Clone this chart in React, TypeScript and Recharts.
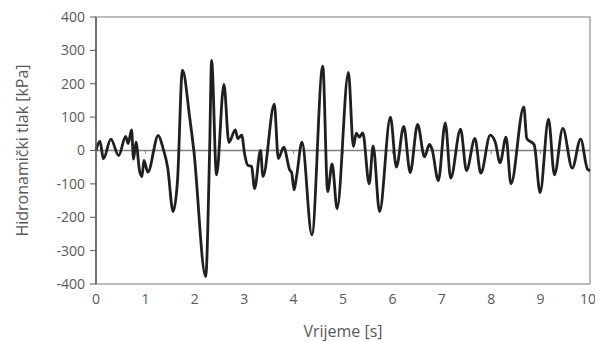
import { LineChart, Line, XAxis, YAxis, ReferenceLine, ReferenceArea } from 'recharts';

// time [s] and pressure [kPa] at peaks and troughs
const TIME = [
  0, 0.08, 0.15, 0.3, 0.46, 0.6, 0.65, 0.72, 0.76, 0.81, 0.88, 0.93, 0.97, 1.05, 1.26, 1.36, 1.45, 1.56, 1.65, 1.75,
  1.9, 1.98, 2.22, 2.3, 2.34, 2.44, 2.59, 2.69, 2.82, 2.87, 2.95, 3.01, 3.07, 3.15, 3.21, 3.33, 3.38, 3.61, 3.69, 3.8,
  3.92, 3.96, 4.01, 4.06, 4.17, 4.37, 4.59, 4.69, 4.78, 4.88, 5.11, 5.21, 5.27, 5.33, 5.4, 5.53, 5.61, 5.74, 5.96, 6.08,
  6.23, 6.36, 6.51, 6.65, 6.75, 6.8, 6.93, 7.07, 7.18, 7.38, 7.5, 7.67, 7.79, 7.98, 8.08, 8.18, 8.3, 8.4, 8.66, 8.72,
  8.87, 8.99, 9.16, 9.28, 9.45, 9.64, 9.81, 9.95, 10,
];
const PRESSURE = [
  0, 28, -25, 34, -15, 42, 21, 62, -26, 25, -60, -78, -30, -65, 45, 5, -50, -183, -90, 241,
  95, 0, -378, 0, 270, -73, 198, 24, 62, 36, 46, -12, -44, -48, -114, 0, -78, 139, -24, 10,
  -58, -66, -118, -78, 25, -253, 253, -123, -40, -174, 234, 12, 52, 40, 53, -100, 14, -183, 100, -50,
  72, -66, 78, -19, 18, 5, -90, 83, -83, 64, -60, 36, -68, 46, 26, -37, 40, -100, 131, 36,
  17, -126, 94, -73, 66, -53, 34, -56, -60,
];
const X_TICKS = [0, 1, 2, 3, 4, 5, 6, 7, 8, 9, 10];
const Y_TICKS = [-400, -300, -200, -100, 0, 100, 200, 300, 400];

const data = TIME.map((t, i) => ({ t, p: PRESSURE[i] }));

const font = '"Open Sans", sans-serif';
const tickStyle = { fill: '#595959', fontSize: 14, fontFamily: font };

export default function App() {
  return (
    <div style={{ position: 'absolute', left: 0, top: 0, background: '#fff' }}>
      <LineChart width={595} height={342} data={data} margin={{ top: 17, right: 5, bottom: 0, left: 16 }}>
        <ReferenceArea x1={0} x2={10} y1={-400} y2={400} fill="none" stroke="#a6a6a6" strokeWidth={1.5} />
        <XAxis
          dataKey="t"
          type="number"
          domain={[0, 10]}
          ticks={X_TICKS}
          axisLine={false}
          tickLine={false}
          tick={tickStyle}
          tickMargin={4}
          height={58}
          label={{ value: 'Vrijeme [s]', position: 'insideBottom', offset: 5, fill: '#595959', fontSize: 16, fontFamily: font }}
        />
        <YAxis
          type="number"
          domain={[-400, 400]}
          ticks={Y_TICKS}
          width={80}
          tick={tickStyle}
          tickSize={6}
          tickMargin={5}
          axisLine={{ stroke: '#595959', strokeWidth: 1.5 }}
          tickLine={{ stroke: '#595959' }}
          label={{
            value: 'Hidronamički tlak [kPa]',
            angle: -90,
            position: 'insideLeft',
            offset: 6,
            style: { textAnchor: 'middle', fill: '#595959', fontSize: 16, fontFamily: font },
          }}
        />
        <ReferenceLine y={0} stroke="#808080" strokeWidth={1.5} />
        {X_TICKS.slice(1, -1).map((x) => (
          <ReferenceLine key={x} segment={[{ x, y: 0 }, { x, y: -10 }]} stroke="#808080" />
        ))}
        <Line type="monotone" dataKey="p" stroke="#1f1f1f" strokeWidth={2.8} dot={false} isAnimationActive={false} />
      </LineChart>
    </div>
  );
}
